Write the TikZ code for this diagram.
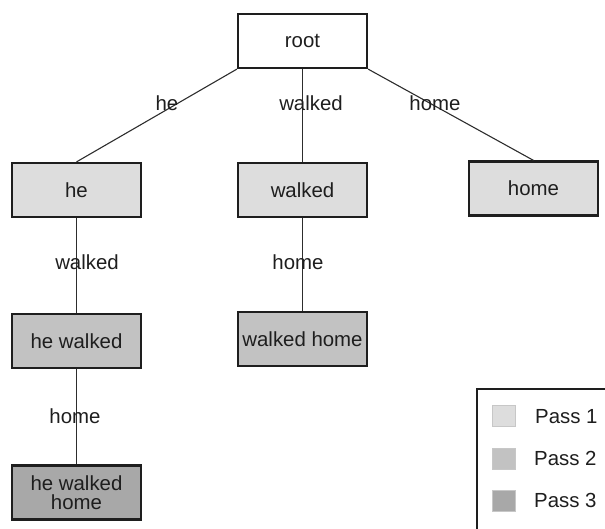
\documentclass[tikz,border=0pt]{standalone}
\usepackage{fontspec}
\setmainfont{Liberation Sans}
\definecolor{passA}{RGB}{221,221,221}
\definecolor{passB}{RGB}{194,194,194}
\definecolor{passC}{RGB}{168,168,168}
\definecolor{ink}{RGB}{30,30,30}
\definecolor{edgeink}{RGB}{45,45,45}
\begin{document}
\begin{tikzpicture}[x=1pt,y=-1pt,
  every node/.style={font=\fontsize{20.4}{19.5}\selectfont, text=ink},
  treebox/.style={draw=ink, line width=2.2pt, minimum width=129pt, minimum height=54pt, inner sep=0pt, align=center},
  lbl/.style={inner sep=0pt},
  conn/.style={draw=edgeink, line width=1.1pt},
  swatch/.style={draw=black!22, line width=0.8pt, minimum width=23pt, minimum height=21pt, inner sep=0pt},
  legtext/.style={anchor=west, inner sep=0pt}]
\useasboundingbox (0,0) rectangle (605,529);
% tree nodes
\node[treebox, fill=white] (root) at (302.5,41) {root};
\node[treebox, fill=passA] (he) at (76.5,190) {he};
\node[treebox, fill=passA] (walked) at (302.5,190) {walked};
\node[treebox, fill=passA] (home) at (533.5,188.5) {home};
\node[treebox, fill=passB] (hewalked) at (76.5,341) {he walked};
\node[treebox, fill=passB] (walkedhome) at (302.5,339) {walked home};
\node[treebox, fill=passC] (hewalkedhome) at (76.5,492.5) {he walked\\home};
% connectors
\draw[conn] (root.south west) -- (he.north);
\draw[conn] (root.south) -- (walked.north);
\draw[conn] (root.south east) -- (home.north);
\draw[conn] (he.south) -- (hewalked.north);
\draw[conn] (walked.south) -- (walkedhome.north);
\draw[conn] (hewalked.south) -- (hewalkedhome.north);
% edge labels
\node[lbl] (l1) at (167,103) {he};
\node[lbl] (l2) at (311,103) {walked};
\node[lbl] (l3) at (435,103) {home};
\node[lbl] (l4) at (87,262) {walked};
\node[lbl] (l5) at (298,262) {home};
\node[lbl] (l6) at (75,416) {home};
% legend
\draw[draw=ink, line width=2pt] (477,540) -- (477,389) -- (615,389);
\node[swatch, fill=passA] (s1) at (504,416) {};
\node[swatch, fill=passB] (s2) at (504,458.5) {};
\node[swatch, fill=passC] (s3) at (504,501) {};
\node[legtext] (t1) at (535,417) {Pass 1};
\node[legtext] (t2) at (534,458) {Pass 2};
\node[legtext] (t3) at (534,500) {Pass 3};
\end{tikzpicture}
\end{document}
